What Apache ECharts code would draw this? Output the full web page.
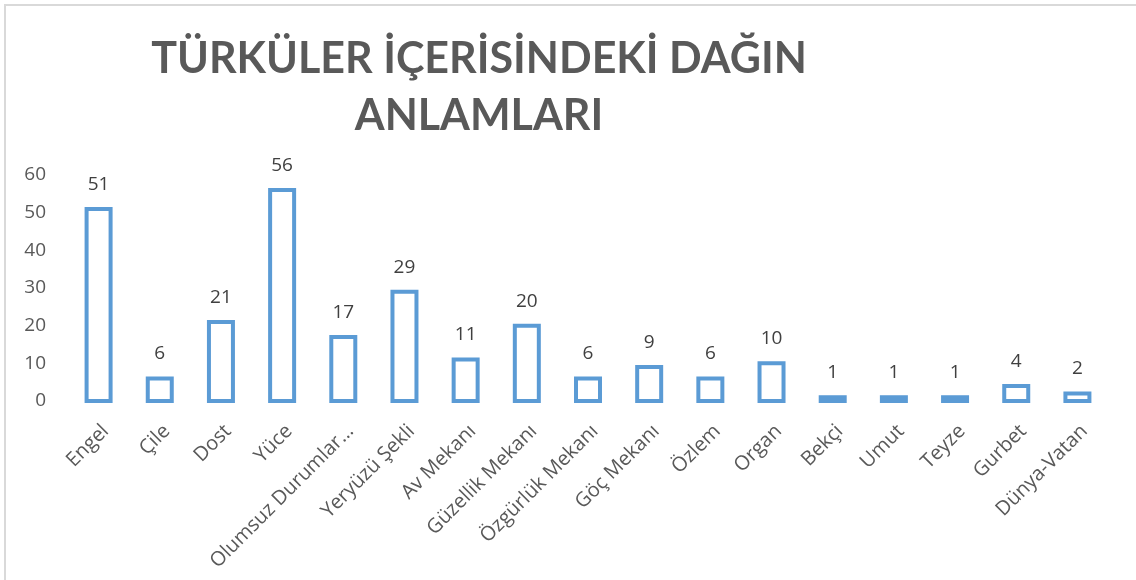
<!DOCTYPE html>
<html>
<head>
<meta charset="utf-8">
<script src="https://cdn.jsdelivr.net/npm/echarts@6/dist/echarts.min.js"></script>
<style>html,body{margin:0;padding:0;background:#fff}#c{width:1136px;height:580px}</style>
</head>
<body>
<div id="c"></div>
<script>
const categories = ["Engel","Çile","Dost","Yüce","Olumsuz Durumlar…","Yeryüzü Şekli","Av Mekanı","Güzellik Mekanı","Özgürlük Mekanı","Göç Mekanı","Özlem","Organ","Bekçi","Umut","Teyze","Gurbet","Dünya-Vatan"];
const values = [51,6,21,56,17,29,11,20,6,9,6,10,1,1,1,4,2];
const titleText = "TÜRKÜLER İÇERİSİNDEKİ DAĞIN\nANLAMLARI";

const chart = echarts.init(document.getElementById('c'));
chart.setOption({
  animation: false,
  backgroundColor: '#fff',
  title: {
    text: titleText,
    left: 474,
    top: 26,
    textAlign: 'center',
    textStyle: {fontFamily: 'Lato', fontWeight: 'bold', fontSize: 43, color: '#595959', lineHeight: 57}
  },
  graphic: [
    {type: 'polyline', shape: {points: [[5, 580], [5, 5], [1136, 5]]}, style: {stroke: '#d9d9d9', lineWidth: 2, fill: null}}
  ],
  grid: {left: 68, right: 28, top: 175, bottom: 179, containLabel: false},
  xAxis: {
    type: 'category',
    data: categories,
    axisLine: {show: false},
    axisTick: {show: false},
    axisLabel: {rotate: 45, interval: 0, margin: 20, align: 'right', verticalAlign: 'top', fontFamily: 'Open Sans', fontSize: 20, color: '#595959'}
  },
  yAxis: {
    type: 'value',
    min: 0, max: 60, interval: 10,
    splitLine: {show: false},
    axisLine: {show: false},
    axisTick: {show: false},
    axisLabel: {margin: 22, fontFamily: 'Open Sans', fontSize: 19, color: '#595959'}
  },
  series: [{
    type: 'custom',
    data: values.map((v, i) => [i, v]),
    encode: {x: 0, y: 1},
    renderItem: function (params, api) {
      const idx = api.value(0), v = api.value(1);
      const base = api.coord([idx, 0]);
      const top = api.coord([idx, v]);
      const w = 24;
      return {
        type: 'rect',
        shape: {x: base[0] - w / 2, y: top[1], width: w, height: base[1] - top[1]},
        style: {fill: '#ffffff', stroke: '#5B9BD5', lineWidth: 4},
        textContent: {style: {text: String(v), fontFamily: 'Open Sans', fontSize: 19, fill: '#404040'}},
        textConfig: {position: 'top', distance: 13}
      };
    }
  }]
});
</script>
</body>
</html>
